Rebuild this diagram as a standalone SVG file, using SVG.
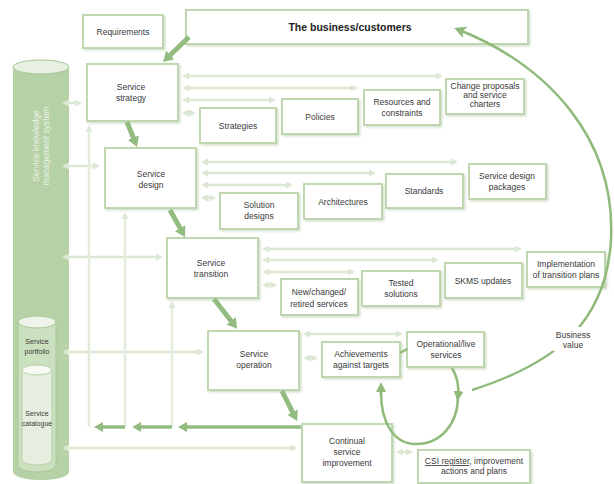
<svg xmlns="http://www.w3.org/2000/svg" width="614" height="484" viewBox="0 0 614 484">
<defs>
<filter id="sh" x="-10%" y="-10%" width="130%" height="140%"><feDropShadow dx="1.5" dy="1.5" stdDeviation="0.8" flood-color="#cddcc3" flood-opacity="0.9"/></filter>
<marker id="ah" viewBox="0 0 10 12" markerWidth="10" markerHeight="12" refX="1" refY="6" orient="auto" markerUnits="userSpaceOnUse"><path d="M0,0 L10,6 L0,12 z" fill="#93bd80"/></marker>
<marker id="ahs" viewBox="0 0 9 10" markerWidth="9" markerHeight="10" refX="1" refY="5" orient="auto" markerUnits="userSpaceOnUse"><path d="M0,0 L9,5 L0,10 z" fill="#93bd80"/></marker>
<marker id="la" viewBox="0 0 7 7" markerWidth="7" markerHeight="7" refX="5" refY="3.5" orient="auto-start-reverse" markerUnits="userSpaceOnUse"><path d="M0,0 L7,3.5 L0,7 z" fill="#dde8d4"/></marker>
<marker id="bv" viewBox="0 0 12 12" markerWidth="12" markerHeight="12" refX="9" refY="6" orient="auto" markerUnits="userSpaceOnUse"><path d="M0,0 L12,6 L0,12 L3,6 z" fill="#8fba7a"/></marker>
<marker id="lp" viewBox="0 0 10 10" markerWidth="10" markerHeight="10" refX="5" refY="5" orient="auto" markerUnits="userSpaceOnUse"><path d="M0,0 L10,5 L0,10 z" fill="#8fba7a"/></marker>
</defs>
<style>
.box{fill:#ffffff;stroke:#b9d4aa;stroke-width:1.8;filter:url(#sh)}
.t{font-family:"Liberation Sans",Arial,sans-serif;font-size:8.5px;fill:#3a3a3a;text-anchor:middle}
.tb{font-family:"Liberation Sans",Arial,sans-serif;font-size:10.5px;font-weight:bold;fill:#222;text-anchor:middle}
.ts{font-family:"Liberation Sans",Arial,sans-serif;font-size:7px;fill:#3a3a3a;text-anchor:middle}
.tw{font-family:"Liberation Sans",Arial,sans-serif;font-size:8.5px;fill:#e9f1e4;text-anchor:middle}
.light{stroke:#dde8d4;stroke-width:2.5;fill:none;marker-end:url(#la);marker-start:url(#la)}
.vlight{stroke:#e4ecdc;stroke-width:2.5;fill:none;marker-end:url(#la)}
.thick{stroke:#93bd80;stroke-width:5;fill:none;marker-end:url(#ah)}
.mid{stroke:#93bd80;stroke-width:3.5;fill:none;marker-end:url(#ahs)}
.curve{stroke:#8fba7a;stroke-width:2.5;fill:none}
</style>

<g id="skms">
<path d="M13,67 L13,472 A28,8 0 0 0 69,472 L69,67 z" fill="#b6d1a6"/>
<ellipse cx="41" cy="67" rx="28" ry="7" fill="#e8f0e1" stroke="#a5c594" stroke-width="1"/>
<text class="tw" transform="translate(39,146) rotate(-90)"><tspan x="0" y="0">Service knowledge</tspan><tspan x="0" y="9.5">management system</tspan></text>
</g>
<g id="portfolio">
<path d="M18,322 L18,466 A19,6 0 0 0 56,466 L56,322 z" fill="#cbe0bf" stroke="#a9c89a" stroke-width="1"/>
<ellipse cx="37" cy="322" rx="19" ry="6" fill="#eef4e9" stroke="#a9c89a" stroke-width="1"/>
<text class="ts" x="37" y="344">Service</text>
<text class="ts" x="37" y="354">portfolio</text>
</g>
<g id="catalogue">
<path d="M22,370 L22,460 A15,5 0 0 0 52,460 L52,370 z" fill="#e6efdf" stroke="#b6d1a6" stroke-width="1"/>
<ellipse cx="37" cy="370" rx="15" ry="5" fill="#f7faf4" stroke="#b6d1a6" stroke-width="1"/>
<text class="ts" x="37" y="416">Service</text>
<text class="ts" x="37" y="426">catalogue</text>
</g>

<g id="requirements"><rect class="box" x="83" y="15" width="80" height="33"/><text class="t" x="123" y="35">Requirements</text></g>
<g id="business"><rect class="box" x="186" y="10" width="342" height="34"/><text class="tb" x="350" y="31">The business/customers</text></g>

<g id="strategy"><rect class="box" x="87" y="64" width="91" height="57"/><text class="t" x="131" y="90">Service</text><text class="t" x="131" y="101">strategy</text></g>
<g id="strategies"><rect class="box" x="200" y="108" width="76" height="35"/><text class="t" x="238" y="129">Strategies</text></g>
<g id="policies"><rect class="box" x="282" y="99" width="76" height="35"/><text class="t" x="320" y="120">Policies</text></g>
<g id="resources"><rect class="box" x="364" y="90" width="76" height="35"/><text class="t" x="402" y="105">Resources and</text><text class="t" x="402" y="116">constraints</text></g>
<g id="change"><rect class="box" x="446" y="79" width="78" height="35"/><text class="t" x="485" y="89">Change proposals</text><text class="t" x="485" y="98">and service</text><text class="t" x="485" y="107">charters</text></g>

<g id="design"><rect class="box" x="105" y="148" width="91" height="60"/><text class="t" x="151" y="177">Service</text><text class="t" x="151" y="188">design</text></g>
<g id="solution"><rect class="box" x="220" y="193" width="78" height="36"/><text class="t" x="259" y="208">Solution</text><text class="t" x="259" y="219">designs</text></g>
<g id="architectures"><rect class="box" x="304" y="184" width="78" height="35"/><text class="t" x="343" y="205">Architectures</text></g>
<g id="standards"><rect class="box" x="386" y="174" width="77" height="34"/><text class="t" x="424" y="194">Standards</text></g>
<g id="sdp"><rect class="box" x="469" y="164" width="77" height="35"/><text class="t" x="507" y="179">Service design</text><text class="t" x="507" y="190">packages</text></g>

<g id="transition"><rect class="box" x="167" y="238" width="91" height="60"/><text class="t" x="211" y="266">Service</text><text class="t" x="211" y="277">transition</text></g>
<g id="newchanged"><rect class="box" x="281" y="279" width="77" height="36"/><text class="t" x="319" y="295">New/changed/</text><text class="t" x="319" y="307">retired services</text></g>
<g id="tested"><rect class="box" x="362" y="271" width="78" height="35"/><text class="t" x="401" y="286">Tested</text><text class="t" x="401" y="297">solutions</text></g>
<g id="skmsupdates"><rect class="box" x="445" y="263" width="77" height="35"/><text class="t" x="483" y="284">SKMS updates</text></g>
<g id="implementation"><rect class="box" x="527" y="252" width="78" height="35"/><text class="t" x="566" y="267">Implementation</text><text class="t" x="566" y="278">of transition plans</text></g>

<g id="operation"><rect class="box" x="208" y="331" width="91" height="59"/><text class="t" x="254" y="357">Service</text><text class="t" x="254" y="368">operation</text></g>
<g id="achievements"><rect class="box" x="322" y="342" width="78" height="35"/><text class="t" x="361" y="357">Achievements</text><text class="t" x="361" y="368">against targets</text></g>
<g id="operational"><rect class="box" x="407" y="332" width="77" height="35"/><text class="t" x="446" y="347">Operational/live</text><text class="t" x="446" y="358">services</text></g>

<g id="csi"><rect class="box" x="302" y="424" width="90" height="58"/><text class="t" x="347" y="444">Continual</text><text class="t" x="347" y="455">service</text><text class="t" x="347" y="466">improvement</text></g>
<g id="csiregister"><rect class="box" x="418" y="450" width="112" height="33"/><text class="t" x="474" y="464"><tspan text-decoration="underline">CSI register</tspan>, improvement</text><text class="t" x="474" y="474">actions and plans</text></g>

<g id="connectors">
<line class="light" x1="64" y1="103" x2="80" y2="103"/>
<line class="light" x1="64" y1="166" x2="98" y2="166"/>
<line class="light" x1="64" y1="257" x2="161" y2="257"/>
<line class="light" x1="64" y1="352" x2="202" y2="352"/>
<line class="light" x1="64" y1="448" x2="295" y2="448"/>
<line class="light" x1="184" y1="76" x2="441" y2="76"/>
<line class="light" x1="184" y1="88" x2="356" y2="88"/>
<line class="light" x1="184" y1="100" x2="274" y2="100"/>
<line class="light" x1="184" y1="113" x2="194" y2="113"/>
<line class="light" x1="203" y1="162" x2="456" y2="162"/>
<line class="light" x1="203" y1="173" x2="374" y2="173"/>
<line class="light" x1="203" y1="185" x2="291" y2="185"/>
<line class="light" x1="203" y1="198" x2="214" y2="198"/>
<line class="light" x1="264" y1="249" x2="520" y2="249"/>
<line class="light" x1="264" y1="260" x2="437" y2="260"/>
<line class="light" x1="264" y1="272" x2="353" y2="272"/>
<line class="light" x1="264" y1="285" x2="275" y2="285"/>
<line class="light" x1="305" y1="334" x2="401" y2="334"/>
<line class="light" x1="305" y1="358" x2="316" y2="358"/>
<line class="light" x1="398" y1="452" x2="411" y2="452"/>
<line class="vlight" x1="89" y1="427" x2="89" y2="127"/>
<line class="vlight" x1="125" y1="427" x2="125" y2="214"/>
<line class="vlight" x1="172" y1="427" x2="172" y2="303"/>
<line class="mid" x1="301" y1="427" x2="186" y2="427"/>
<line class="mid" x1="172" y1="427" x2="140" y2="427"/>
<line class="mid" x1="125" y1="427" x2="102" y2="427"/>
<line class="thick" x1="189" y1="37" x2="169.5" y2="55.8"/>
<line class="thick" x1="127" y1="122" x2="133.7" y2="138.6"/>
<line class="thick" x1="170" y1="210" x2="180.6" y2="229.1"/>
<line class="thick" x1="214" y1="299" x2="231.7" y2="321.7"/>
<line class="thick" x1="282" y1="391" x2="293" y2="413"/>
<line x1="400" y1="353" x2="407" y2="349" stroke="#8fba7a" stroke-width="2.5"/>
<path class="curve" d="M452,368 C458,378 459,388 458,396" marker-end="url(#lp)"/>
<path class="curve" d="M458,396 C458,425 440,444 416,444 C395,444 381,425 381,392"/>
<path class="curve" d="M381,395 L381,387" marker-end="url(#lp)"/>
<path class="curve" d="M472,390 C560,362 606,320 611,240 C616,140 550,66 457,29" marker-end="url(#bv)"/>
<rect x="553" y="327" width="40" height="24" fill="#ffffff"/>
</g>

<g id="businessvalue"><text class="t" x="573" y="338">Business</text><text class="t" x="573" y="348">value</text></g>
</svg>
